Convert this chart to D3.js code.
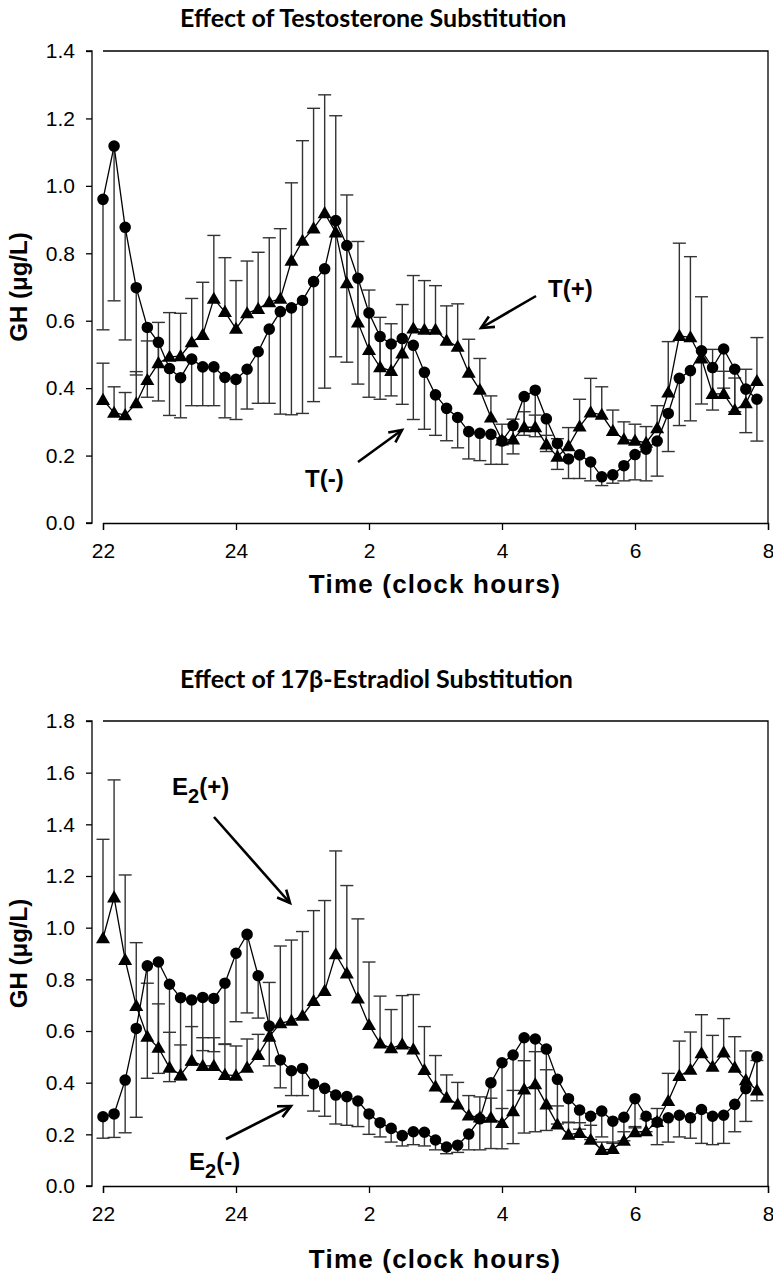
<!DOCTYPE html>
<html><head><meta charset="utf-8">
<script src="https://cdn.jsdelivr.net/npm/d3@7/dist/d3.min.js"></script>
<style>body{margin:0;background:#fff}svg{display:block}</style>
</head><body>
<svg id="c" width="773" height="1278"></svg>
<script>
// ---- data ----
const times = d3.range(60).map(i => 22 + i / 6); // clock hours, every 10 min from 22:00
const xTickValues = [22, 24, 26, 28, 30, 32];
const xTickLabels = ["22", "24", "2", "4", "6", "8"];
const yTicksTop = [0, 0.2, 0.4, 0.6, 0.8, 1.0, 1.2, 1.4];
const yTicksBottom = [0, 0.2, 0.4, 0.6, 0.8, 1.0, 1.2, 1.4, 1.6, 1.8];

// Top: T(-) circles, mean and lower error bar end
const tMinus = [0.96,1.118,0.877,0.698,0.580,0.536,0.458,0.431,0.486,0.463,0.463,0.432,0.426,0.456,0.508,0.575,0.627,0.638,0.660,0.716,0.754,0.897,0.823,0.726,0.623,0.553,0.531,0.547,0.527,0.447,0.380,0.340,0.313,0.271,0.266,0.263,0.243,0.289,0.375,0.394,0.309,0.236,0.190,0.202,0.181,0.137,0.143,0.170,0.203,0.219,0.243,0.325,0.429,0.452,0.511,0.461,0.516,0.456,0.397,0.367];
const tMinusLow = [0.573,0.659,0.543,0.439,0.373,0.362,0.319,0.312,0.348,0.348,0.348,0.312,0.307,0.338,0.355,0.355,0.323,0.321,0.325,0.36,0.40,0.493,0.477,0.412,0.373,0.367,0.377,0.352,0.307,0.278,0.26,0.244,0.223,0.19,0.185,0.174,0.174,0.205,0.26,0.256,0.212,0.159,0.132,0.132,0.125,0.111,0.118,0.125,0.128,0.125,0.139,0.212,0.289,0.303,0.353,0.335,0.40,0.33,0.268,0.243];
// Top: T(+) triangles, mean and upper error bar end
const tPlus = [0.365,0.327,0.320,0.355,0.424,0.474,0.493,0.495,0.536,0.558,0.665,0.626,0.576,0.622,0.635,0.655,0.665,0.778,0.837,0.874,0.919,0.862,0.711,0.595,0.513,0.462,0.451,0.503,0.577,0.573,0.573,0.541,0.523,0.446,0.395,0.313,0.245,0.248,0.284,0.284,0.233,0.197,0.228,0.286,0.328,0.321,0.273,0.248,0.244,0.238,0.281,0.387,0.555,0.551,0.488,0.383,0.383,0.335,0.355,0.421];
const tPlusHigh = [0.474,0.404,0.387,0.449,0.54,0.595,0.624,0.622,0.666,0.714,0.853,0.787,0.719,0.777,0.803,0.846,0.873,1.009,1.134,1.23,1.27,1.208,0.973,0.835,0.691,0.61,0.591,0.648,0.734,0.719,0.704,0.644,0.65,0.545,0.488,0.377,0.293,0.308,0.33,0.32,0.26,0.25,0.283,0.367,0.429,0.404,0.335,0.30,0.293,0.286,0.348,0.538,0.83,0.79,0.671,0.515,0.45,0.43,0.456,0.55];

// Bottom: E2(-) circles, mean and lower error bar end
const e2Minus = [0.268,0.279,0.410,0.610,0.852,0.867,0.781,0.729,0.720,0.730,0.726,0.785,0.901,0.974,0.814,0.619,0.488,0.446,0.455,0.395,0.378,0.352,0.346,0.329,0.279,0.245,0.223,0.195,0.210,0.208,0.178,0.151,0.158,0.201,0.260,0.40,0.477,0.507,0.574,0.569,0.530,0.413,0.338,0.294,0.270,0.290,0.251,0.266,0.338,0.270,0.247,0.264,0.274,0.264,0.296,0.270,0.274,0.316,0.377,0.50];
const e2MinusLow = [0.185,0.188,0.206,0.266,0.417,0.436,0.404,0.41,0.468,0.524,0.52,0.55,0.636,0.67,0.65,0.465,0.38,0.35,0.35,0.29,0.27,0.24,0.235,0.23,0.20,0.19,0.17,0.155,0.16,0.155,0.14,0.125,0.13,0.14,0.14,0.145,0.144,0.164,0.205,0.21,0.215,0.24,0.247,0.22,0.18,0.19,0.165,0.175,0.225,0.21,0.16,0.17,0.19,0.185,0.165,0.16,0.165,0.21,0.25,0.33];
// Bottom: E2(+) triangles, mean and upper error bar end
const e2Plus = [0.959,1.117,0.875,0.697,0.578,0.535,0.458,0.430,0.485,0.465,0.465,0.430,0.427,0.458,0.507,0.578,0.630,0.640,0.659,0.716,0.755,0.897,0.823,0.726,0.623,0.552,0.533,0.548,0.529,0.449,0.385,0.342,0.316,0.273,0.265,0.264,0.244,0.290,0.374,0.394,0.316,0.238,0.199,0.205,0.179,0.140,0.143,0.175,0.208,0.212,0.248,0.329,0.426,0.450,0.514,0.462,0.517,0.458,0.41,0.37];
const e2PlusHigh = [1.342,1.572,1.204,0.942,0.785,0.705,0.595,0.546,0.617,0.574,0.574,0.548,0.542,0.569,0.587,0.788,0.929,0.952,0.985,1.066,1.105,1.297,1.163,1.034,0.867,0.735,0.683,0.737,0.741,0.617,0.505,0.43,0.401,0.35,0.345,0.34,0.30,0.37,0.485,0.52,0.45,0.31,0.245,0.245,0.235,0.17,0.17,0.21,0.23,0.26,0.30,0.436,0.561,0.596,0.663,0.583,0.648,0.578,0.523,0.486];

// ---- drawing ----
const svg = d3.select("#c");
const tickFont = "'Liberation Sans', Arial, sans-serif";
const titleFont = "Lato, 'Open Sans', sans-serif";

function panel(cfg) {
  const g = svg.append("g");
  const x = d3.scaleLinear().domain([22, 32]).range([103, 768]);
  const y = d3.scaleLinear().domain([0, cfg.ymax]).range([cfg.y0, cfg.y1]);

  // title
  g.append("text").attr("x", 180).attr("y", cfg.titleY)
    .attr("font-family", titleFont).attr("font-weight", "bold").attr("font-size", 25)
    .text(cfg.title);

  // frame (top + right)
  g.append("path").attr("d", `M${x(22)},${y(cfg.ymax)}H${x(32)}V${y(0)}`)
    .attr("fill", "none").attr("stroke", "#000").attr("stroke-width", 1.3);

  // y axis (offset left)
  const ya = g.append("g").attr("transform", `translate(92,0)`)
    .call(d3.axisLeft(y).tickValues(cfg.yTicks).tickFormat(d3.format(".1f")).tickSize(6).tickPadding(11));
  // x axis
  const xa = g.append("g").attr("transform", `translate(0,${y(0)})`)
    .call(d3.axisBottom(x).tickValues(xTickValues).tickFormat((d, i) => xTickLabels[i]).tickSize(7).tickPadding(13));
  [ya, xa].forEach(a => {
    a.select(".domain").attr("stroke-width", 1.3);
    a.selectAll(".tick line").attr("stroke-width", 1.3);
    a.selectAll("text").attr("font-family", tickFont).attr("font-size", 21).attr("fill", "#000");
  });
  ya.select(".domain").attr("d", `M-6,${y(0)}H0V${y(cfg.ymax)}H-6`);

  // axis titles
  g.append("text").attr("x", 435).attr("y", y(0) + cfg.xTitleDy)
    .attr("text-anchor", "middle").attr("font-family", tickFont).attr("font-weight", "bold")
    .attr("font-size", 26).attr("letter-spacing", 1.2).text("Time (clock hours)");
  g.append("text").attr("transform", `translate(27,${(y(0) + y(cfg.ymax)) / 2}) rotate(-90)`)
    .attr("text-anchor", "middle").attr("font-family", tickFont).attr("font-weight", "bold")
    .attr("font-size", 24).text("GH (μg/L)");

  const plot = g.append("g");
  const capW = 6.5;
  // error bars
  cfg.series.forEach(s => {
    const eb = plot.append("g").attr("stroke", "#333").attr("stroke-width", 1.4);
    s.mean.forEach((m, i) => {
      const e = s.err[i];
      eb.append("line").attr("x1", x(times[i])).attr("x2", x(times[i])).attr("y1", y(m)).attr("y2", y(e));
      eb.append("line").attr("x1", x(times[i]) - capW).attr("x2", x(times[i]) + capW).attr("y1", y(e)).attr("y2", y(e));
    });
  });
  // lines
  cfg.series.forEach(s => {
    plot.append("path").datum(s.mean)
      .attr("d", d3.line().x((d, i) => x(times[i])).y(d => y(d)))
      .attr("fill", "none").attr("stroke", "#000").attr("stroke-width", 1.3);
  });
  // markers
  cfg.series.forEach(s => {
    const sym = d3.symbol().type(s.shape === "circle" ? d3.symbolCircle : d3.symbolTriangle)
      .size(s.shape === "circle" ? 105 : 85);
    plot.append("g").selectAll("path").data(s.mean).join("path")
      .attr("transform", (d, i) => `translate(${x(times[i])},${y(d) + (s.shape === "circle" ? 0 : 1)})`)
      .attr("d", sym).attr("fill", "#000");
  });

  // annotations
  cfg.notes.forEach(n => {
    const t = g.append("text").attr("x", n.tx).attr("y", n.ty)
      .attr("font-family", tickFont).attr("font-weight", "bold").attr("font-size", 24);
    t.append("tspan").text(n.main);
    if (n.sub) {
      t.append("tspan").attr("dy", 8).attr("font-size", 20).text(n.sub);
      t.append("tspan").attr("dy", -8).text(n.rest);
    }
    const [x1, y1, x2, y2] = n.arrow;
    const ang = Math.atan2(y2 - y1, x2 - x1);
    const L = 14, a = Math.PI / 7;
    const h1 = [x2 - L * Math.cos(ang - a), y2 - L * Math.sin(ang - a)];
    const h2 = [x2 - L * Math.cos(ang + a), y2 - L * Math.sin(ang + a)];
    g.append("line").attr("x1", x1).attr("y1", y1).attr("x2", x2).attr("y2", y2)
      .attr("stroke", "#000").attr("stroke-width", 2.6);
    g.append("path").attr("d", `M${h1}L${x2},${y2}L${h2}`)
      .attr("fill", "none").attr("stroke", "#000").attr("stroke-width", 2.6);
  });
}

panel({
  title: "Effect of Testosterone Substitution", titleY: 27,
  ymax: 1.4, y0: 523, y1: 51, yTicks: yTicksTop, xTitleDy: 70,
  series: [
    { mean: tMinus, err: tMinusLow, shape: "circle" },
    { mean: tPlus, err: tPlusHigh, shape: "triangle" }
  ],
  notes: [
    { main: "T(+)", tx: 548, ty: 297, arrow: [536, 296, 481, 328] },
    { main: "T(-)", tx: 305, ty: 487, arrow: [358, 462, 402, 430] }
  ]
});

panel({
  title: "Effect of 17β-Estradiol Substitution", titleY: 688,
  ymax: 1.8, y0: 1186, y1: 721, yTicks: yTicksBottom, xTitleDy: 82,
  series: [
    { mean: e2Minus, err: e2MinusLow, shape: "circle" },
    { mean: e2Plus, err: e2PlusHigh, shape: "triangle" }
  ],
  notes: [
    { main: "E", sub: "2", rest: "(+)", tx: 172, ty: 795, arrow: [214, 817, 290, 903] },
    { main: "E", sub: "2", rest: "(-)", tx: 189, ty: 1170, arrow: [226, 1139, 291, 1106] }
  ]
});
</script>
</body></html>
